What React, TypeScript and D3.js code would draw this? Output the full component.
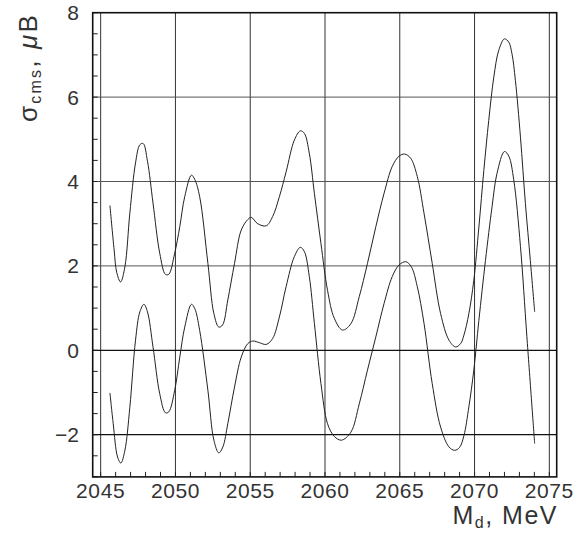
import React from "react";
import * as d3 from "d3";

const upperMass = [2045.62,2045.9,2046.07,2046.33,2046.62,2046.95,2047.33,2047.62,2047.84,2048.13,2048.5,2048.95,2049.33,2049.55,2049.95,2050.29,2050.62,2051.07,2051.29,2051.62,2052.17,2052.57,2052.9,2053.15,2053.5,2053.95,2054.4,2054.84,2055.07,2055.5,2056.07,2056.5,2056.95,2057.4,2057.95,2058.35,2058.62,2058.95,2059.29,2059.73,2060.17,2060.62,2061.17,2061.73,2062.29,2062.84,2063.4,2063.95,2064.5,2064.95,2065.33,2065.73,2066.17,2066.62,2067.17,2067.73,2068.29,2068.73,2069.07,2069.29,2069.62,2069.95,2070.29,2070.62,2070.95,2071.29,2071.62,2072.0,2072.29,2072.5,2072.73,2073.07,2073.4,2073.73,2074.02];
const upperSigma = [3.43,2.38,1.85,1.62,1.98,3.25,4.44,4.87,4.9,4.48,3.49,2.3,1.8,1.8,2.3,2.93,3.64,4.15,4.05,3.64,2.06,0.87,0.55,0.6,1.19,2.06,2.85,3.1,3.15,3.0,2.95,3.17,3.64,4.23,4.98,5.2,5.14,4.67,3.72,2.53,1.42,0.76,0.48,0.63,1.27,2.06,2.93,3.72,4.36,4.6,4.65,4.55,4.12,3.25,2.06,0.87,0.24,0.08,0.16,0.36,0.87,1.66,2.92,4.26,5.45,6.48,7.11,7.38,7.3,7.03,6.4,5.05,3.48,2.13,0.91];

const lowerMass = [2045.62,2045.84,2046.13,2046.35,2046.62,2046.95,2047.33,2047.62,2047.89,2048.13,2048.5,2048.95,2049.33,2049.55,2049.95,2050.29,2050.62,2051.07,2051.29,2051.62,2052.17,2052.57,2052.9,2053.17,2053.5,2053.95,2054.4,2054.84,2055.17,2055.62,2056.07,2056.5,2056.95,2057.4,2057.95,2058.35,2058.62,2058.95,2059.29,2059.73,2060.17,2060.62,2061.1,2061.73,2062.29,2062.84,2063.4,2063.95,2064.5,2064.95,2065.4,2065.77,2066.17,2066.62,2067.17,2067.73,2068.29,2068.67,2069.0,2069.29,2069.62,2069.95,2070.29,2070.73,2071.17,2071.5,2072.0,2072.29,2072.62,2073.07,2073.5,2074.02];
const lowerSigma = [-1.01,-1.74,-2.53,-2.67,-2.37,-1.35,0.24,0.91,1.09,0.91,0.08,-1.03,-1.48,-1.46,-0.95,-0.16,0.55,1.09,0.99,0.47,-0.95,-2.13,-2.43,-2.29,-1.74,-0.87,-0.16,0.16,0.22,0.18,0.14,0.28,0.79,1.51,2.22,2.44,2.34,1.75,0.64,-0.79,-1.74,-2.04,-2.13,-1.94,-1.27,-0.47,0.32,1.11,1.75,2.02,2.1,1.98,1.51,0.64,-0.79,-1.82,-2.29,-2.37,-2.3,-2.02,-1.34,-0.47,0.71,2.13,3.4,4.19,4.71,4.6,4.04,2.46,0.32,-2.21];

const xTicks = [2045, 2050, 2055, 2060, 2065, 2070, 2075];
const yTicks = [8, 6, 4, 2, 0, -2];
const xMinor = d3.range(2045, 2076, 1);
const yMinor = d3.range(-3, 8.01, 0.5);

export default function App() {
  const W = 586, H = 534;
  const left = 92.7, right = 556.7, top = 12.7, bottom = 476.9;
  const x = d3.scaleLinear().domain([2044.467, 2075.493]).range([left, right]);
  const y = d3.scaleLinear().domain([-3, 8]).range([bottom, top]);
  const line = d3.line<[number, number]>().x(d => x(d[0])).y(d => y(d[1])).curve(d3.curveCatmullRom.alpha(0.5));
  const up = upperMass.map((m, i) => [m, upperSigma[i]] as [number, number]);
  const lo = lowerMass.map((m, i) => [m, lowerSigma[i]] as [number, number]);
  const font = "'Liberation Sans', Arial, sans-serif";
  return (
    <svg width={W} height={H} style={{ position: "absolute", left: 0, top: 0, background: "#fff" }}>
      {xTicks.map(t => (
        <line key={"vx" + t} x1={x(t)} x2={x(t)} y1={top} y2={bottom} stroke="#333" strokeWidth={1} />
      ))}
      {yTicks.filter(t => t !== 8).map(t => (
        <line key={"hy" + t} x1={left} x2={right} y1={y(t)} y2={y(t)} stroke={t <= 0 ? "#111" : "#555"} strokeWidth={t <= 0 ? 1.3 : 1} />
      ))}
      {xMinor.map(t => (
        <line key={"mx" + t} x1={x(t)} x2={x(t)} y1={bottom} y2={bottom - 5} stroke="#222" strokeWidth={1} />
      ))}
      {yMinor.map(t => (
        <line key={"my" + t} x1={left} x2={left + 5} y1={y(t)} y2={y(t)} stroke="#222" strokeWidth={1} />
      ))}
      <path d={line(up) || ""} fill="none" stroke="#222" strokeWidth={1} />
      <path d={line(lo) || ""} fill="none" stroke="#222" strokeWidth={1} />
      <rect x={left} y={top} width={right - left} height={bottom - top} fill="none" stroke="#111" strokeWidth={1.6} />
      {xTicks.map(t => (
        <text key={"lx" + t} x={x(t)} y={497.5} textAnchor="middle" fontFamily={font} fontSize={21} fill="#333" letterSpacing={0.6}>{t}</text>
      ))}
      {yTicks.map(t => (
        <text key={"ly" + t} x={79} y={y(t)} dy="0.36em" textAnchor="end" fontFamily={font} fontSize={21} fill="#333">{t < 0 ? "\u2212" + Math.abs(t) : t}</text>
      ))}
      <text x={558} y={524} textAnchor="end" fontFamily={font} fontSize={25} fill="#333" letterSpacing={1.5}>
        M<tspan fontSize={16} dy={4}>d</tspan><tspan dy={-4}>, MeV</tspan>
      </text>
      <text transform="translate(37,13) rotate(-90)" textAnchor="end" fontFamily={font} fontSize={26} fill="#333" letterSpacing={2.2}>
        σ<tspan fontSize={16} dy={4}>cms</tspan><tspan dy={-4}>, </tspan><tspan fontStyle="italic">μ</tspan>B
      </text>
    </svg>
  );
}
